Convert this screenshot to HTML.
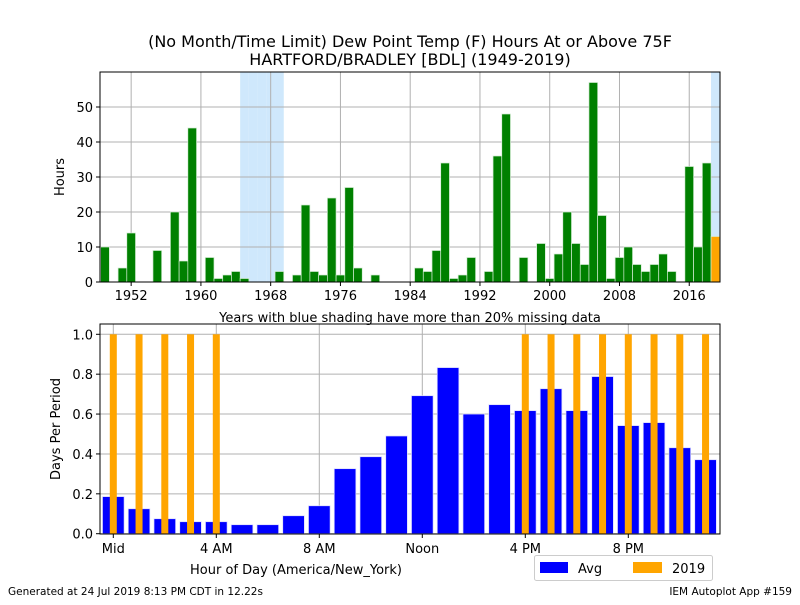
<!DOCTYPE html>
<html><head><meta charset="utf-8"><style>
body{margin:0;background:#fff}
svg{font-family:"DejaVu Sans","Liberation Sans",sans-serif}
</style></head><body>
<svg id="c" width="800" height="600" viewBox="0 0 800 600" xmlns="http://www.w3.org/2000/svg">
<text x="410" y="47" font-size="16" text-anchor="middle">(No Month/Time Limit) Dew Point Temp (F) Hours At or Above 75F</text>
<text x="410" y="65" font-size="16" text-anchor="middle">HARTFORD/BRADLEY [BDL] (1949-2019)</text>
<g id="topg"></g><g id="botg"></g>
<text x="410" y="322" font-size="13" text-anchor="middle">Years with blue shading have more than 20% missing data</text>
<text x="64" y="177" font-size="13" text-anchor="middle" transform="rotate(-90 64 177)">Hours</text>
<text x="60" y="429" font-size="13" text-anchor="middle" transform="rotate(-90 60 429)">Days Per Period</text>
<text x="296" y="574" font-size="13" text-anchor="middle">Hour of Day (America/New_York)</text>
<g>
<rect x="534.5" y="555.5" width="178" height="25" rx="2" fill="#fff" stroke="#ccc"/>
<rect x="540" y="562" width="28" height="11" fill="#0000ff"/>
<text x="578" y="573" font-size="13">Avg</text>
<rect x="633" y="562" width="29" height="11" fill="#ffa500"/>
<text x="672" y="573" font-size="13">2019</text>
</g>
<text x="8" y="595" font-size="10.5">Generated at 24 Jul 2019 8:13 PM CDT in 12.22s</text>
<text x="792" y="595" font-size="10.5" text-anchor="end">IEM Autoplot App #159</text>
</svg>
<script>
const years=[];for(let y=1949;y<=2019;y++)years.push(y);
const hours=[10,0,4,14,0,0,9,0,20,6,44,0,7,1,2,3,1,0,0,0,3,0,2,22,3,2,24,2,27,4,0,2,0,0,0,0,4,3,9,34,1,2,7,0,3,36,48,0,7,0,11,1,8,20,11,5,57,19,1,7,10,5,3,5,8,3,0,33,10,34,13];
const shadedYears=[1965,1966,1967,1968,1969,2019];
const yTicksTop=[0,10,20,30,40,50];
const xTicksTop=[1952,1960,1968,1976,1984,1992,2000,2008,2016];
const hourIdx=[0,1,2,3,4,5,6,7,8,9,10,11,12,13,14,15,16,17,18,19,20,21,22,23];
const avgVals=[0.186,0.125,0.075,0.06,0.06,0.045,0.045,0.09,0.14,0.326,0.386,0.49,0.692,0.833,0.60,0.647,0.617,0.727,0.617,0.788,0.542,0.557,0.431,0.371];
const curVals=[1,1,1,1,1,0,0,0,0,0,0,0,0,0,0,0,1,1,1,1,1,1,1,1];
const yTicksBot=[0,0.2,0.4,0.6,0.8,1.0];
const yTickLabelsBot=["0.0","0.2","0.4","0.6","0.8","1.0"];
const xTicksBot=[0,4,8,12,16,20];
const xTickLabelsBot=["Mid","4 AM","8 AM","Noon","4 PM","8 PM"];

const NS="http://www.w3.org/2000/svg";
function mk(p,t,a){const e=document.createElementNS(NS,t);for(const k in a)e.setAttribute(k,a[k]);p.appendChild(e);return e;}
const T={l:100,r:720,t:72,b:282};
const tx=v=>105+(v-1949)*8.72, ty=v=>282-v*3.5;
const topG=document.getElementById('topg');
for(const y of shadedYears){const r=mk(topG,'rect',{x:tx(y-0.5),y:T.t,width:8.72,height:T.b-T.t,fill:'#cfe8fc'});

}
for(const v of xTicksTop){mk(topG,'line',{x1:tx(v),x2:tx(v),y1:T.t,y2:T.b,stroke:'#b0b0b0'});
const tl=mk(topG,'text',{x:tx(v),y:T.b+18,'font-size':13,'text-anchor':'middle'});tl.textContent=v;


mk(topG,'line',{x1:tx(v),x2:tx(v),y1:T.b,y2:T.b+4,stroke:'#000'});}
for(const v of yTicksTop){mk(topG,'line',{x1:T.l,x2:T.r,y1:ty(v),y2:ty(v),stroke:'#b0b0b0'});
const tl=mk(topG,'text',{x:T.l-7,y:ty(v)+5,'font-size':13,'text-anchor':'end'});tl.textContent=v;


mk(topG,'line',{x1:T.l-4,x2:T.l,y1:ty(v),y2:ty(v),stroke:'#000'});}
years.forEach((y,i)=>{const v=hours[i];const b=mk(topG,'rect',{x:tx(y)-4.36,y:ty(v),width:8.72,height:v*3.5,fill:y===2019?'#ffa500':'#008000',stroke:'#d4ecd4','stroke-width':0.7});

});
mk(topG,'rect',{x:T.l,y:T.t,width:T.r-T.l,height:T.b-T.t,fill:'none',stroke:'#000'});
const B={l:100,r:720,t:324,b:534};
const bx=v=>113.3+v*25.75, by=v=>533.7-v*199.4;
const botG=document.getElementById('botg');
xTicksBot.forEach((v,i)=>{mk(botG,'line',{x1:bx(v),x2:bx(v),y1:B.t,y2:B.b,stroke:'#b0b0b0'});
const tl=mk(botG,'text',{x:bx(v),y:B.b+19,'font-size':13,'text-anchor':'middle'});tl.textContent=xTickLabelsBot[i];


mk(botG,'line',{x1:bx(v),x2:bx(v),y1:B.b,y2:B.b+4,stroke:'#000'});});
yTicksBot.forEach((v,i)=>{mk(botG,'line',{x1:B.l,x2:B.r,y1:by(v),y2:by(v),stroke:'#b0b0b0'});
const tl=mk(botG,'text',{x:B.l-7,y:by(v)+5,'font-size':13,'text-anchor':'end'});tl.textContent=yTickLabelsBot[i];


mk(botG,'line',{x1:B.l-4,x2:B.l,y1:by(v),y2:by(v),stroke:'#000'});});
hourIdx.forEach((h,i)=>{const v=avgVals[i];const b=mk(botG,'rect',{x:bx(h)-10.8,y:by(v),width:21.6,height:by(0)-by(v),fill:'#0000ff',stroke:'#d8d8ff','stroke-width':0.7});

});
hourIdx.forEach((h,i)=>{const v=curVals[i];if(!v)return;const b=mk(botG,'rect',{x:bx(h)-3.5,y:by(v),width:7,height:by(0)-by(v),fill:'#ffa500'});

});
mk(botG,'rect',{x:B.l,y:B.t,width:B.r-B.l,height:B.b-B.t,fill:'none',stroke:'#000'});
</script>
</body></html>
